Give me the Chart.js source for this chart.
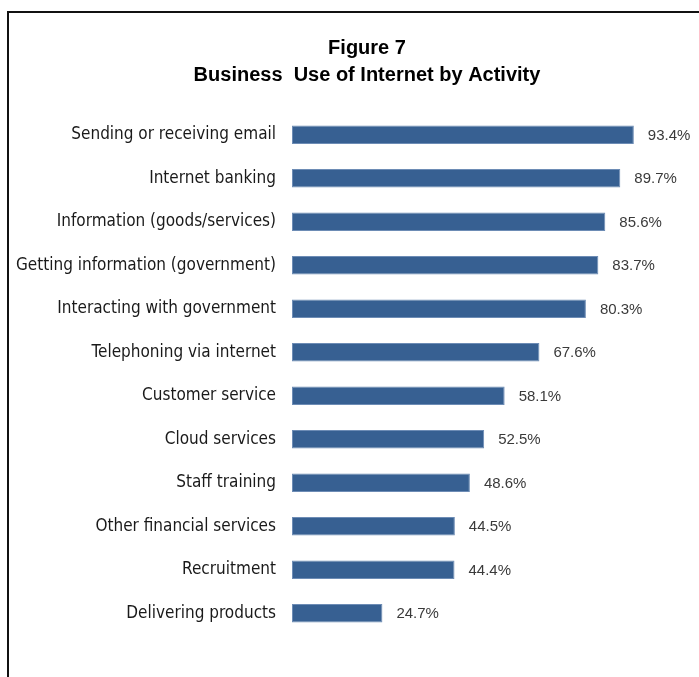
<!DOCTYPE html>
<html>
<head>
<meta charset="utf-8">
<title>Figure 7 - Business Use of Internet by Activity</title>
<script src="https://cdn.jsdelivr.net/npm/chart.js@4.4.1/dist/chart.umd.min.js"></script>
<style>
	html, body {
		margin: 0;
		padding: 0;
		background: #ffffff;
	}
	#frame {
		position: absolute;
		left: 7px;
		top: 11px;
		width: 720px;
		height: 700px;
		border-left: 2px solid #111111;
		border-top: 2px solid #111111;
	}
	#wrap {
		position: absolute;
		left: 0;
		top: 0;
		width: 699px;
		height: 677px;
	}
</style>
</head>
<body>
<div id="frame"></div>
<div id="wrap"><canvas id="chart-canvas"></canvas></div>
<script>
// Chart data
var categories = [
	'Sending or receiving email',
	'Internet banking',
	'Information (goods/services)',
	'Getting information (government)',
	'Interacting with government',
	'Telephoning via internet',
	'Customer service',
	'Cloud services',
	'Staff training',
	'Other financial services',
	'Recruitment',
	'Delivering products'
];
var usage = [93.4, 89.7, 85.6, 83.7, 80.3, 67.6, 58.1, 52.5, 48.6, 44.5, 44.4, 24.7];
var titleLines = ['Figure 7', 'Business  Use of Internet by Activity'];

(function () {
	'use strict';

	// Two-line heading, centred over the figure the way the original sits
	var heading = {
		id: 'heading',
		afterDraw: function (chart) {
			var ctx = chart.ctx;
			ctx.save();
			ctx.font = 'bold 20px "Liberation Sans", Arial, sans-serif';
			ctx.fillStyle = '#000000';
			ctx.textAlign = 'center';
			ctx.textBaseline = 'middle';
			titleLines.forEach(function (line, i) {
				ctx.fillText(line, 367, 48 + i * 27);
			});
			ctx.restore();
		}
	};

	// Draw the value label to the right of each bar
	var valueLabels = {
		id: 'valueLabels',
		afterDatasetsDraw: function (chart) {
			var ctx = chart.ctx;
			var meta = chart.getDatasetMeta(0);
			ctx.save();
			ctx.font = '15px "Liberation Sans", Arial, sans-serif';
			ctx.fillStyle = '#3a3a3a';
			ctx.textAlign = 'left';
			ctx.textBaseline = 'middle';
			meta.data.forEach(function (bar, i) {
				ctx.fillText(usage[i].toFixed(1) + '%', bar.x + 14, bar.y + 1);
			});
			ctx.restore();
		}
	};

	var ctx = document.getElementById('chart-canvas');

	var config = {
		type: 'bar',
		data: {
			labels: categories,
			datasets: [{
				label: 'Share of businesses (%)',
				data: usage,
				backgroundColor: '#376092',
				borderColor: '#6d8cb5',
				borderWidth: 1,
				borderSkipped: false,
				barPercentage: 0.42,
				categoryPercentage: 1.0
			}]
		},
		options: {
			indexAxis: 'y',
			responsive: true,
			maintainAspectRatio: false,
			animation: false,
			layout: {
				padding: { left: 0, right: 41, top: 113, bottom: 42 }
			},
			plugins: {
				legend: { display: false },
				tooltip: { enabled: false },
				title: { display: false }
			},
			scales: {
				x: {
					display: false,
					min: 0,
					max: 100
				},
				y: {
					grid: { display: false, drawTicks: false },
					border: { display: false },
					afterFit: function (scale) {
						scale.width = 292;
					},
					ticks: {
						padding: 16,
						color: '#1a1a1a',
						font: { family: '"Liberation Sans Narrow", "Arial Narrow", "DejaVu Sans Condensed", sans-serif', size: 17 }
					}
				}
			}
		},
		plugins: [valueLabels, heading]
	};

	new Chart(ctx, config);
})();
</script>
</body>
</html>
